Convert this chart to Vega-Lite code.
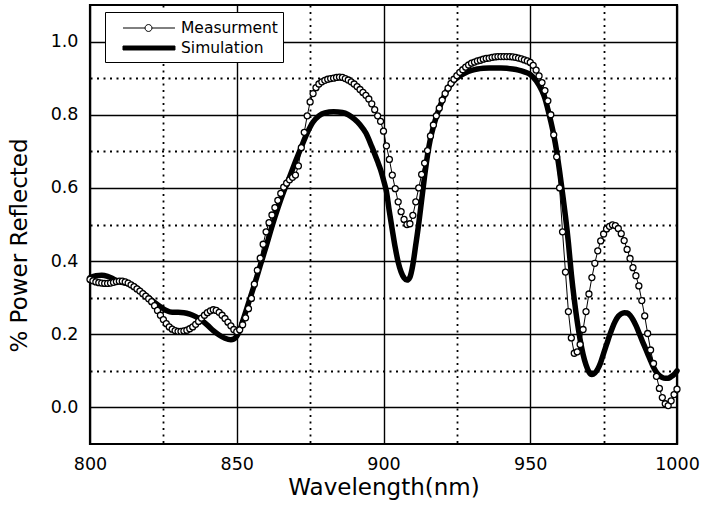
{
  "$schema": "https://vega.github.io/schema/vega-lite/v6.json",
  "width": 587,
  "height": 439,
  "autosize": {"type": "none"},
  "padding": {"left": 90, "top": 5, "right": 24, "bottom": 63},
  "background": "white",
  "config": {
    "font": "DejaVu Sans",
    "view": {"stroke": "black", "strokeWidth": 2.2},
    "legend": {
      "orient": "none",
      "legendX": 15,
      "legendY": 7,
      "padding": 5,
      "strokeColor": "black",
      "fillColor": "white",
      "labelFont": "DejaVu Sans",
      "labelFontSize": 15.5,
      "labelColor": "black",
      "labelOffset": 49,
      "rowPadding": 0,
      "symbolSize": 441,
      "symbolStrokeWidth": 1,
      "title": null
    }
  },
  "datasets": {
    "meas": [
      {"wl":800,"power":0.35},{"wl":801,"power":0.346},{"wl":802,"power":0.343},{"wl":803,"power":0.341},{"wl":804,"power":0.34},
      {"wl":805,"power":0.339},{"wl":806,"power":0.339},{"wl":807,"power":0.34},{"wl":808,"power":0.342},{"wl":809,"power":0.344},
      {"wl":810,"power":0.345},{"wl":811,"power":0.345},{"wl":812,"power":0.343},{"wl":813,"power":0.34},{"wl":814,"power":0.335},
      {"wl":815,"power":0.33},{"wl":816,"power":0.324},{"wl":817,"power":0.318},{"wl":818,"power":0.311},{"wl":819,"power":0.304},
      {"wl":820,"power":0.297},{"wl":821,"power":0.289},{"wl":822,"power":0.278},{"wl":823,"power":0.265},{"wl":824,"power":0.252},
      {"wl":825,"power":0.24},{"wl":826,"power":0.229},{"wl":827,"power":0.22},{"wl":828,"power":0.214},{"wl":829,"power":0.21},
      {"wl":830,"power":0.208},{"wl":831,"power":0.208},{"wl":832,"power":0.209},{"wl":833,"power":0.211},{"wl":834,"power":0.215},
      {"wl":835,"power":0.22},{"wl":836,"power":0.227},{"wl":837,"power":0.235},{"wl":838,"power":0.244},{"wl":839,"power":0.252},
      {"wl":840,"power":0.259},{"wl":841,"power":0.264},{"wl":842,"power":0.267},{"wl":843,"power":0.265},{"wl":844,"power":0.26},
      {"wl":845,"power":0.252},{"wl":846,"power":0.243},{"wl":847,"power":0.233},{"wl":848,"power":0.223},{"wl":849,"power":0.213},
      {"wl":850,"power":0.207},{"wl":851,"power":0.212},{"wl":852,"power":0.226},{"wl":853,"power":0.245},{"wl":854,"power":0.27},
      {"wl":855,"power":0.298},{"wl":856,"power":0.337},{"wl":857,"power":0.375},{"wl":858,"power":0.408},{"wl":859,"power":0.446},
      {"wl":860,"power":0.48},{"wl":861,"power":0.505},{"wl":862,"power":0.526},{"wl":863,"power":0.546},{"wl":864,"power":0.566},
      {"wl":865,"power":0.585},{"wl":866,"power":0.602},{"wl":867,"power":0.613},{"wl":868,"power":0.622},{"wl":869,"power":0.629},
      {"wl":870,"power":0.635},{"wl":871,"power":0.66},{"wl":872,"power":0.71},{"wl":873,"power":0.752},{"wl":874,"power":0.797},
      {"wl":875,"power":0.835},{"wl":876,"power":0.858},{"wl":877,"power":0.874},{"wl":878,"power":0.884},{"wl":879,"power":0.89},
      {"wl":880,"power":0.894},{"wl":881,"power":0.897},{"wl":882,"power":0.899},{"wl":883,"power":0.9},{"wl":884,"power":0.902},
      {"wl":885,"power":0.903},{"wl":886,"power":0.902},{"wl":887,"power":0.899},{"wl":888,"power":0.895},{"wl":889,"power":0.89},
      {"wl":890,"power":0.884},{"wl":891,"power":0.877},{"wl":892,"power":0.869},{"wl":893,"power":0.861},{"wl":894,"power":0.853},
      {"wl":895,"power":0.843},{"wl":896,"power":0.83},{"wl":897,"power":0.814},{"wl":898,"power":0.797},{"wl":899,"power":0.782},
      {"wl":900,"power":0.755},{"wl":901,"power":0.715},{"wl":902,"power":0.678},{"wl":903,"power":0.635},{"wl":904,"power":0.598},
      {"wl":905,"power":0.562},{"wl":906,"power":0.535},{"wl":907,"power":0.514},{"wl":908,"power":0.5},{"wl":909,"power":0.502},
      {"wl":910,"power":0.525},{"wl":911,"power":0.562},{"wl":912,"power":0.6},{"wl":913,"power":0.637},{"wl":914,"power":0.668},
      {"wl":915,"power":0.702},{"wl":916,"power":0.742},{"wl":917,"power":0.772},{"wl":918,"power":0.797},{"wl":919,"power":0.818},
      {"wl":920,"power":0.84},{"wl":921,"power":0.858},{"wl":922,"power":0.873},{"wl":923,"power":0.886},{"wl":924,"power":0.897},
      {"wl":925,"power":0.907},{"wl":926,"power":0.916},{"wl":927,"power":0.923},{"wl":928,"power":0.93},{"wl":929,"power":0.936},
      {"wl":930,"power":0.941},{"wl":931,"power":0.944},{"wl":932,"power":0.947},{"wl":933,"power":0.949},{"wl":934,"power":0.952},
      {"wl":935,"power":0.954},{"wl":936,"power":0.955},{"wl":937,"power":0.957},{"wl":938,"power":0.958},{"wl":939,"power":0.959},
      {"wl":940,"power":0.959},{"wl":941,"power":0.959},{"wl":942,"power":0.959},{"wl":943,"power":0.959},{"wl":944,"power":0.958},
      {"wl":945,"power":0.957},{"wl":946,"power":0.955},{"wl":947,"power":0.953},{"wl":948,"power":0.95},{"wl":949,"power":0.947},
      {"wl":950,"power":0.943},{"wl":951,"power":0.935},{"wl":952,"power":0.922},{"wl":953,"power":0.906},{"wl":954,"power":0.888},
      {"wl":955,"power":0.866},{"wl":956,"power":0.838},{"wl":957,"power":0.8},{"wl":958,"power":0.745},{"wl":959,"power":0.685},
      {"wl":960,"power":0.6},{"wl":961,"power":0.48},{"wl":962,"power":0.37},{"wl":963,"power":0.262},{"wl":964,"power":0.19},
      {"wl":965,"power":0.148},{"wl":966,"power":0.152},{"wl":967,"power":0.172},{"wl":968,"power":0.213},{"wl":969,"power":0.262},
      {"wl":970,"power":0.31},{"wl":971,"power":0.355},{"wl":972,"power":0.394},{"wl":973,"power":0.428},{"wl":974,"power":0.455},
      {"wl":975,"power":0.474},{"wl":976,"power":0.488},{"wl":977,"power":0.495},{"wl":978,"power":0.499},{"wl":979,"power":0.497},
      {"wl":980,"power":0.489},{"wl":981,"power":0.475},{"wl":982,"power":0.456},{"wl":983,"power":0.432},{"wl":984,"power":0.407},
      {"wl":985,"power":0.382},{"wl":986,"power":0.36},{"wl":987,"power":0.332},{"wl":988,"power":0.292},{"wl":989,"power":0.25},
      {"wl":990,"power":0.202},{"wl":991,"power":0.157},{"wl":992,"power":0.12},{"wl":993,"power":0.085},{"wl":994,"power":0.052},
      {"wl":995,"power":0.027},{"wl":996,"power":0.01},{"wl":997,"power":0.005},{"wl":998,"power":0.018},{"wl":999,"power":0.035},
      {"wl":1000,"power":0.05}
    ],
    "sim": [
      {"wl":800,"power":0.355},{"wl":802,"power":0.36},{"wl":804,"power":0.361},{"wl":806,"power":0.358},{"wl":808,"power":0.351},
      {"wl":810,"power":0.344},{"wl":812,"power":0.34},{"wl":814,"power":0.335},{"wl":816,"power":0.326},{"wl":818,"power":0.313},
      {"wl":820,"power":0.3},{"wl":822,"power":0.287},{"wl":824,"power":0.275},{"wl":826,"power":0.265},{"wl":828,"power":0.26},
      {"wl":830,"power":0.26},{"wl":832,"power":0.259},{"wl":834,"power":0.255},{"wl":836,"power":0.248},{"wl":838,"power":0.238},
      {"wl":840,"power":0.225},{"wl":842,"power":0.21},{"wl":844,"power":0.198},{"wl":846,"power":0.189},{"wl":848,"power":0.185},
      {"wl":849,"power":0.187},{"wl":850,"power":0.195},{"wl":851,"power":0.21},{"wl":852,"power":0.235},{"wl":853,"power":0.26},
      {"wl":854,"power":0.285},{"wl":856,"power":0.335},{"wl":858,"power":0.388},{"wl":860,"power":0.44},{"wl":862,"power":0.495},
      {"wl":864,"power":0.545},{"wl":866,"power":0.59},{"wl":868,"power":0.63},{"wl":870,"power":0.672},{"wl":872,"power":0.712},
      {"wl":874,"power":0.75},{"wl":876,"power":0.78},{"wl":878,"power":0.797},{"wl":880,"power":0.805},{"wl":883,"power":0.808},
      {"wl":886,"power":0.806},{"wl":888,"power":0.8},{"wl":890,"power":0.789},{"wl":892,"power":0.773},{"wl":894,"power":0.75},
      {"wl":896,"power":0.713},{"wl":897,"power":0.693},{"wl":898,"power":0.672},{"wl":899,"power":0.65},{"wl":900,"power":0.622},
      {"wl":901,"power":0.59},{"wl":902,"power":0.535},{"wl":903,"power":0.485},{"wl":904,"power":0.437},{"wl":905,"power":0.397},
      {"wl":906,"power":0.37},{"wl":907,"power":0.354},{"wl":908,"power":0.348},{"wl":909,"power":0.356},{"wl":910,"power":0.39},
      {"wl":911,"power":0.445},{"wl":912,"power":0.502},{"wl":913,"power":0.567},{"wl":914,"power":0.632},{"wl":915,"power":0.69},
      {"wl":916,"power":0.735},{"wl":917,"power":0.767},{"wl":918,"power":0.795},{"wl":919,"power":0.818},{"wl":920,"power":0.838},
      {"wl":921,"power":0.857},{"wl":922,"power":0.872},{"wl":924,"power":0.893},{"wl":926,"power":0.906},{"wl":928,"power":0.915},
      {"wl":930,"power":0.921},{"wl":932,"power":0.925},{"wl":934,"power":0.927},{"wl":936,"power":0.928},{"wl":938,"power":0.928},
      {"wl":940,"power":0.928},{"wl":942,"power":0.927},{"wl":944,"power":0.925},{"wl":946,"power":0.922},{"wl":948,"power":0.917},
      {"wl":950,"power":0.91},{"wl":952,"power":0.893},{"wl":954,"power":0.865},{"wl":955,"power":0.845},{"wl":956,"power":0.815},
      {"wl":957,"power":0.782},{"wl":958,"power":0.745},{"wl":959,"power":0.7},{"wl":960,"power":0.645},{"wl":961,"power":0.585},
      {"wl":962,"power":0.522},{"wl":963,"power":0.45},{"wl":964,"power":0.365},{"wl":965,"power":0.295},{"wl":966,"power":0.235},
      {"wl":967,"power":0.185},{"wl":968,"power":0.145},{"wl":969,"power":0.116},{"wl":970,"power":0.097},{"wl":971,"power":0.09},
      {"wl":972,"power":0.094},{"wl":973,"power":0.105},{"wl":974,"power":0.123},{"wl":975,"power":0.148},{"wl":976,"power":0.172},
      {"wl":977,"power":0.196},{"wl":978,"power":0.218},{"wl":979,"power":0.236},{"wl":980,"power":0.249},{"wl":981,"power":0.256},
      {"wl":982,"power":0.259},{"wl":983,"power":0.258},{"wl":984,"power":0.252},{"wl":985,"power":0.24},{"wl":986,"power":0.224},
      {"wl":987,"power":0.205},{"wl":988,"power":0.185},{"wl":989,"power":0.166},{"wl":990,"power":0.147},{"wl":991,"power":0.128},
      {"wl":992,"power":0.11},{"wl":993,"power":0.096},{"wl":994,"power":0.087},{"wl":995,"power":0.082},{"wl":996,"power":0.08},
      {"wl":997,"power":0.08},{"wl":998,"power":0.084},{"wl":999,"power":0.09},{"wl":1000,"power":0.1}
    ]
  },
  "encoding": {
    "x": {
      "field": "wl",
      "type": "quantitative",
      "scale": {"domain": [800, 1000], "nice": false, "zero": false},
      "axis": {
        "title": "Wavelength(nm)",
        "values": [800, 825, 850, 875, 900, 925, 950, 975, 1000],
        "format": "d",
        "labelExpr": "datum.value % 50 === 0 ? datum.label : ''",
        "labelFont": "DejaVu Sans",
        "labelFontSize": 17.5,
        "labelColor": "black",
        "labelPadding": 11,
        "labelFlush": false,
        "labelOverlap": false,
        "ticks": false,
        "tickSize": 0,
        "domain": false,
        "grid": true,
        "gridColor": "black",
        "gridOpacity": 1,
        "gridWidth": {"condition": {"test": "datum.value % 50 !== 0", "value": 1.8}, "value": 1.4},
        "gridDash": {"condition": {"test": "datum.value % 50 !== 0", "value": [2, 4.5]}, "value": []},
        "titleFont": "DejaVu Sans",
        "titleFontSize": 23,
        "titleFontWeight": "normal",
        "titleColor": "black",
        "titleBaseline": "alphabetic",
        "titleY": 50
      }
    },
    "y": {
      "field": "power",
      "type": "quantitative",
      "scale": {"domain": [-0.1, 1.1], "nice": false, "zero": false},
      "axis": {
        "title": "% Power Reflected",
        "values": [0, 0.1, 0.2, 0.3, 0.4, 0.5, 0.6, 0.7, 0.8, 0.9, 1.0],
        "format": ".1f",
        "labelExpr": "round(datum.value * 10) % 2 === 0 ? datum.label : ''",
        "labelFont": "DejaVu Sans",
        "labelFontSize": 17.5,
        "labelColor": "black",
        "labelPadding": 12,
        "labelFlush": false,
        "labelOverlap": false,
        "ticks": false,
        "tickSize": 0,
        "domain": false,
        "grid": true,
        "gridColor": "black",
        "gridOpacity": 1,
        "gridWidth": {"condition": {"test": "round(datum.value * 10) % 2 !== 0", "value": 1.8}, "value": 1.4},
        "gridDash": {"condition": {"test": "round(datum.value * 10) % 2 !== 0", "value": [2, 4.5]}, "value": []},
        "titleFont": "DejaVu Sans",
        "titleFontSize": 23,
        "titleFontWeight": "normal",
        "titleColor": "black",
        "titleAngle": -90,
        "titleAlign": "center",
        "titleBaseline": "alphabetic",
        "titleX": -64,
        "titleY": 240
      }
    }
  },
  "layer": [
    {
      "data": {"name": "sim"},
      "mark": {"type": "line", "color": "black", "strokeWidth": 5.5, "interpolate": "monotone", "strokeJoin": "round", "strokeCap": "round"}
    },
    {
      "data": {"name": "meas"},
      "mark": {"type": "line", "color": "black", "strokeWidth": 1}
    },
    {
      "data": {"name": "meas"},
      "mark": {"type": "point", "shape": "circle", "size": 36, "fill": "white", "stroke": "black", "strokeWidth": 1.3, "opacity": 1, "fillOpacity": 1, "strokeOpacity": 1}
    },
    {
      "data": {"name": "sim"},
      "transform": [{"filter": "false"}, {"calculate": "'Simulation'", "as": "series"}],
      "mark": {"type": "point", "size": 441, "strokeWidth": 1, "opacity": 1, "fillOpacity": 1, "strokeOpacity": 1},
      "encoding": {
        "shape": {
          "field": "series",
          "type": "nominal",
          "scale": {
            "domain": ["Measurment", "Simulation"],
            "range": [
              "M0.19,0H2.29M2.95,0H5.14M2.29,0A0.33,0.33,0,1,1,2.95,0A0.33,0.33,0,1,1,2.29,0Z",
              "M0.19,-0.19H5.14V0.19H0.19Z"
            ]
          },
          "legend": {"title": null, "symbolSize": 441, "labelExpr": "datum.label + '\u00a0\u00a0\u00a0\u00a0'"}
        },
        "fill": {
          "field": "series",
          "type": "nominal",
          "scale": {"domain": ["Measurment", "Simulation"], "range": ["white", "black"]},
          "legend": {"title": null, "symbolSize": 441, "labelExpr": "datum.label + '\u00a0\u00a0\u00a0\u00a0'"}
        },
        "stroke": {
          "field": "series",
          "type": "nominal",
          "scale": {"domain": ["Measurment", "Simulation"], "range": ["black", "black"]},
          "legend": {"title": null, "symbolSize": 441, "labelExpr": "datum.label + '\u00a0\u00a0\u00a0\u00a0'"}
        }
      }
    }
  ]
}
